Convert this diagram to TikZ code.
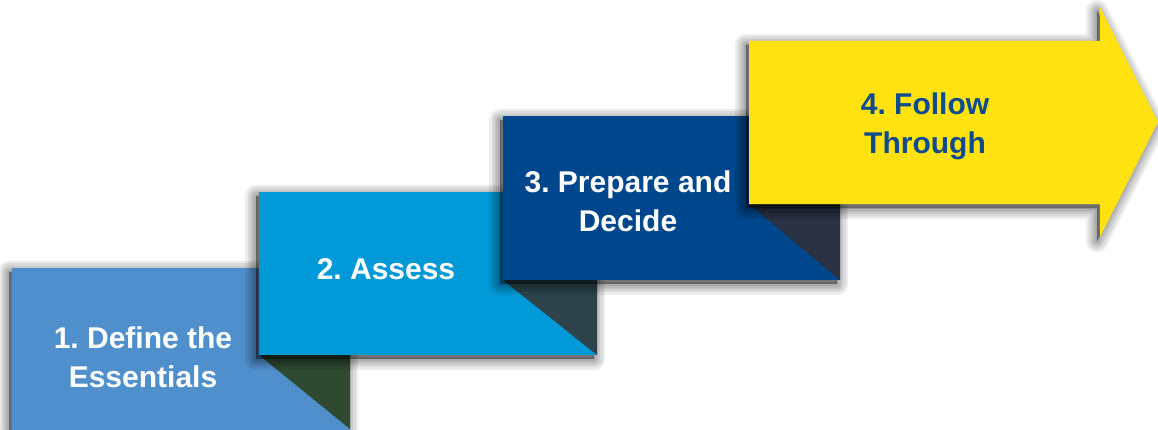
\documentclass[tikz,border=0pt]{standalone}
\usepackage{fontspec}
\setmainfont{Liberation Sans}
\frenchspacing
\usetikzlibrary{shadows}

\definecolor{stepA}{HTML}{4F8FCC}
\definecolor{stepB}{HTML}{0099D8}
\definecolor{stepC}{HTML}{00468C}
\definecolor{stepD}{HTML}{FFE20F}
\definecolor{foldA}{HTML}{2F4A31}
\definecolor{foldB}{HTML}{2D434C}
\definecolor{foldC}{HTML}{2A3244}
\definecolor{darktext}{HTML}{0F4B8F}

\tikzset{
  % one soft ring of the shadow, offset down and to the left
  shadowring/.style={
    general shadow={shadow xshift=-3pt, shadow yshift=-4pt,
      fill=black, draw=black, line width=#1, line join=round,
      opacity=0.075}
  },
  softshadow/.style={
    shadowring=22pt, shadowring=17pt, shadowring=12pt,
    shadowring=8pt, shadowring=4pt, shadowring=1pt
  },
  stepbox/.style={
    anchor=south west, inner sep=0pt, draw=none,
    minimum width=338pt, softshadow
  },
  fold/.style={draw=none},
  steplabel/.style={
    font=\bfseries\fontsize{30}{39}\selectfont,
    align=center, inner sep=0pt, text=white
  }
}

\begin{document}
\begin{tikzpicture}[x=1pt, y=1pt]
  \useasboundingbox (0,0) rectangle (1158,429);
  \fill[white] (0,0) rectangle (1158,429);
  \clip (0,0) rectangle (1158,429);

  % step 1
  \node[stepbox, fill=stepA, minimum height=166pt] (b1) at (12,-5) {};
  \fill[fold, foldA] (259,74) -- (350,74) -- (350,0) -- cycle;

  % step 2
  \node[stepbox, fill=stepB, minimum height=163pt] (b2) at (259,74) {};
  \fill[fold, foldB] (503,149) -- (597,149) -- (597,74) -- cycle;

  % step 3
  \node[stepbox, fill=stepC, minimum height=164pt, minimum width=337pt] (b3) at (503,149) {};
  \fill[fold, foldC] (749,225) -- (840,225) -- (840,149) -- cycle;

  % step 4: the closing arrow
  \path[fill=stepD, softshadow]
    (749,225) -- (1100,225) -- (1100,192) -- (1158,307)
    -- (1100,422) -- (1100,388) -- (749,388) -- cycle;

  % labels
  \node[steplabel] (t1) at (143,72) {1. Define the\\Essentials};
  \node[steplabel] (t2) at (386,160) {2. Assess};
  \node[steplabel] (t3) at (628,228) {3. Prepare and\\Decide};
  \node[steplabel, text=darktext] (t4) at (925,303) {4. Follow\\Through};
\end{tikzpicture}
\end{document}
